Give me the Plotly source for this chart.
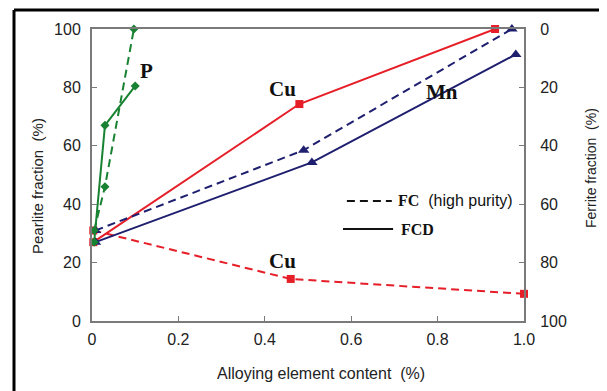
import plotly.graph_objects as go

# ---- data ----
p_fc_x = [0.005, 0.03, 0.097]
p_fc_y = [31, 46, 100]
p_fcd_x = [0.005, 0.03, 0.10]
p_fcd_y = [27, 67, 80.5]

cu_fcd_x = [0.003, 0.48, 0.933]
cu_fcd_y = [27, 74.3, 100]
cu_fc_x = [0.003, 0.46, 1.0]
cu_fc_y = [31, 14.4, 9.3]

mn_fc_x = [0.008, 0.49, 0.972]
mn_fc_y = [31, 58.5, 100]
mn_fcd_x = [0.008, 0.509, 0.981]
mn_fcd_y = [27, 54.3, 91.3]

x_ticks = [0, 0.2, 0.4, 0.6, 0.8, 1.0]
x_tick_labels = ["0", "0.2", "0.4", "0.6", "0.8", "1.0"]
y_ticks = [0, 20, 40, 60, 80, 100]

GREEN = "#178231"
RED = "#e61e28"
NAVY = "#1f1f70"
DASH = "8px,5px"

fig = go.Figure()

def add(x, y, color, dash, symbol, size):
    fig.add_trace(go.Scatter(
        x=x, y=y, mode="lines+markers",
        line=dict(color=color, width=2, dash=dash),
        marker=dict(color=color, symbol=symbol, size=size),
        showlegend=False, cliponaxis=False))

add(cu_fc_x, cu_fc_y, RED, DASH, "square", 8)
add(cu_fcd_x, cu_fcd_y, RED, "solid", "square", 8)
add(mn_fc_x, mn_fc_y, NAVY, DASH, "triangle-up", 10)
add(mn_fcd_x, mn_fcd_y, NAVY, "solid", "triangle-up", 10)
add(p_fc_x, p_fc_y, GREEN, DASH, "diamond", 7)
add(p_fcd_x, p_fcd_y, GREEN, "solid", "diamond", 7)

# invisible trace for secondary (ferrite) axis
fig.add_trace(go.Scatter(x=[0, 1], y=[100 - v for v in [0, 100]], yaxis="y2",
                         mode="markers", marker=dict(opacity=0), showlegend=False,
                         hoverinfo="skip"))

tick_font = dict(family="Liberation Sans, Arial", size=16, color="#222")
AX = "#7a7a7a"

# the page body adds an 8px margin on the left/top, so the figure is 8px smaller
fig.update_layout(
    width=599, height=383,
    margin=dict(l=84, r=83, t=21, b=70),
    paper_bgcolor="white", plot_bgcolor="white",
    xaxis=dict(range=[0, 1.0], tickvals=x_ticks, ticktext=x_tick_labels,
               showgrid=False, zeroline=False, showline=True, linecolor=AX,
               linewidth=2, mirror=True, ticks="inside", ticklen=5,
               tickcolor=AX, tickfont=tick_font, ticklabelstandoff=3),
    yaxis=dict(range=[0, 100], tickvals=y_ticks, showgrid=False, zeroline=False,
               showline=True, linecolor=AX, linewidth=2, ticks="inside",
               ticklen=5, tickcolor=AX, tickfont=tick_font, ticklabelstandoff=6),
    yaxis2=dict(range=[100, 0], tickvals=y_ticks, overlaying="y", side="right",
                showgrid=False, zeroline=False, showline=True, linecolor=AX,
                linewidth=2, ticks="inside", ticklen=5, tickcolor=AX,
                tickfont=tick_font, ticklabelstandoff=11),
)

serif_b = dict(family="Liberation Serif, Times New Roman", size=21, color="#111")
for txt, x, y in [("P", 0.127, 85.5), ("Cu", 0.442, 79.5), ("Mn", 0.81, 78.4),
                  ("Cu", 0.44, 20.5)]:
    fig.add_annotation(x=x, y=y, xref="x", yref="y", text="<b>%s</b>" % txt,
                       showarrow=False, font=serif_b)

# legend drawn manually
fig.add_shape(type="line", xref="x", yref="y", x0=0.59, x1=0.694, y0=41.1, y1=41.1,
              line=dict(color="#111", width=2, dash="8px,5px"))
fig.add_shape(type="line", xref="x", yref="y", x0=0.581, x1=0.697, y0=31.5, y1=31.5,
              line=dict(color="#111", width=2))
fig.add_annotation(x=0.703, y=41.1, xref="x", yref="y", xanchor="left",
                   text="<b><span style='font-family:Liberation Serif'>FC</span></b>"
                        "  (high purity)",
                   showarrow=False,
                   font=dict(family="Liberation Sans, Arial", size=16, color="#111"))
fig.add_annotation(x=0.71, y=31.5, xref="x", yref="y", xanchor="left",
                   text="<b>FCD</b>", showarrow=False,
                   font=dict(family="Liberation Serif", size=16, color="#111"))

# axis titles (positions in page pixels converted to paper coords)
def px(x):
    return (x - 92) / 432

def py(y):
    return (321 - y) / 292

fig.add_annotation(x=px(37), y=py(186), xref="paper", yref="paper",
                   text="Pearlite fraction  (%)", textangle=-90, showarrow=False,
                   font=dict(family="Liberation Sans, Arial", size=15, color="#222"),
                   xanchor="center", yanchor="middle")
fig.add_annotation(x=px(591), y=py(168), xref="paper", yref="paper",
                   text="Ferrite fraction  (%)", textangle=-90, showarrow=False,
                   font=dict(family="Liberation Sans, Arial", size=14, color="#222"),
                   xanchor="center", yanchor="middle")
fig.add_annotation(x=px(321), y=py(373), xref="paper", yref="paper",
                   text="Alloying element content  (%)", showarrow=False,
                   font=dict(family="Liberation Sans, Arial", size=16, color="#222"),
                   xanchor="center", yanchor="middle")

# outer frame (left and top edges)
fig.add_shape(type="line", xref="paper", yref="paper", x0=px(14), x1=px(14),
              y0=py(10), y1=py(400), line=dict(color="black", width=3))
fig.add_shape(type="line", xref="paper", yref="paper", x0=px(14), x1=px(620),
              y0=py(10), y1=py(10), line=dict(color="black", width=3))

fig.write_html("out.html")
